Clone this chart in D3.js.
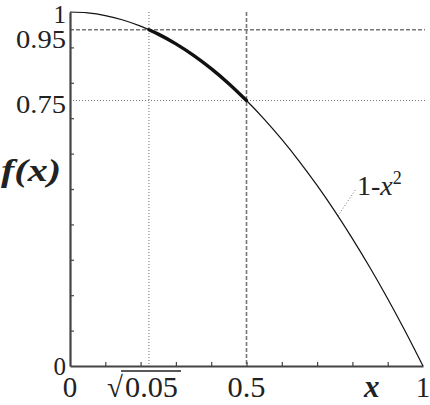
<!DOCTYPE html>
<html><head><meta charset="utf-8">
<script src="https://cdn.jsdelivr.net/npm/d3@7"></script>
<style>body{margin:0;background:#fff}svg{display:block}</style>
</head><body>
<svg id="c" width="430" height="405"></svg>
<script>
const curveX = [0,0.05,0.1,0.15,0.2,0.25,0.3,0.35,0.4,0.45,0.5,0.55,0.6,0.65,0.7,0.75,0.8,0.85,0.9,0.95,1];
const curveY = [1,0.9975,0.99,0.9775,0.96,0.9375,0.91,0.8775,0.84,0.7975,0.75,0.6975,0.64,0.5775,0.51,0.4375,0.36,0.2775,0.19,0.0975,0];
const boldX = [0.2236,0.25,0.3,0.35,0.4,0.45,0.5];
const boldY = [0.95,0.9375,0.91,0.8775,0.84,0.7975,0.75];
const tickVals = [0.1,0.2,0.3,0.4,0.5,0.6,0.7,0.8,0.9];
const yLabels = [{v:1,t:"1"},{v:0.95,t:"0.95"},{v:0.75,t:"0.75"},{v:0,t:"0"}];
const xLabels = [{v:0,t:"0"},{v:0.5,t:"0.5"},{v:1,t:"1"}];
const sqrtLabel = {v:0.2236, t:"0.05"};
const dashedH = 0.95, dottedH = 0.75, dashedV = 0.5, dottedV = 0.2236;

const svg = d3.select("#c");
const x = d3.scaleLinear().domain([0,1]).range([70,423]);
const y = d3.scaleLinear().domain([0,1]).range([366,12]);
const grey = "#777";

// reference lines
const gl = svg.append("g");
gl.append("line").attr("x1",x(0)).attr("x2",x(1)+2).attr("y1",y(dashedH)).attr("y2",y(dashedH))
  .attr("stroke",grey).attr("stroke-width",1.6).attr("stroke-dasharray","4,2");
gl.append("line").attr("x1",x(0)).attr("x2",x(1)+2).attr("y1",y(dottedH)).attr("y2",y(dottedH))
  .attr("stroke",grey).attr("stroke-width",1.1).attr("stroke-dasharray","1,2");
gl.append("line").attr("x1",x(dashedV)).attr("x2",x(dashedV)).attr("y1",y(1)).attr("y2",y(0))
  .attr("stroke",grey).attr("stroke-width",1.6).attr("stroke-dasharray","4,2");
gl.append("line").attr("x1",x(dottedV)).attr("x2",x(dottedV)).attr("y1",y(1)).attr("y2",y(0))
  .attr("stroke",grey).attr("stroke-width",1.1).attr("stroke-dasharray","1,2");
gl.append("line").attr("x1",121).attr("x2",181).attr("y1",371).attr("y2",371).attr("stroke","#222").attr("stroke-width",1.3);
const lx = 0.759;
gl.append("line").attr("x1",x(lx)).attr("y1",y(1-lx*lx)).attr("x2",356).attr("y2",189)
  .attr("stroke",grey).attr("stroke-width",1).attr("stroke-dasharray","1,2");

// axes
const xa = gl.append("g").attr("transform",`translate(0,${y(0)})`)
  .call(d3.axisBottom(x).tickValues(tickVals).tickSizeInner(-4).tickSizeOuter(0).tickFormat(""));
const ya = gl.append("g").attr("transform",`translate(${x(0)},0)`)
  .call(d3.axisLeft(y).tickValues(tickVals).tickSizeInner(-4).tickSizeOuter(0).tickFormat(""));
[xa,ya].forEach(a=>{
  a.selectAll("text").remove();
  a.attr("font-family",null).attr("font-size",null);
  a.select(".domain").attr("stroke","#444").attr("stroke-width",2.2);
  a.selectAll(".tick line").attr("stroke","#444").attr("stroke-width",1.2);
});

// curve
const line = d3.line().x(d=>x(d[0])).y(d=>y(d[1])).curve(d3.curveMonotoneX);
gl.append("path").datum(curveX.map((v,i)=>[v,curveY[i]])).attr("d",line)
  .attr("fill","none").attr("stroke","#111").attr("stroke-width",1.2);
gl.append("path").datum(boldX.map((v,i)=>[v,boldY[i]])).attr("d",line)
  .attr("fill","none").attr("stroke","#111").attr("stroke-width",3.4).attr("stroke-linecap","round");

// labels
const gText = svg.append("g");
const txt = (px,py,size)=>gText.append("text").attr("x",px).attr("y",py)
  .attr("font-family","Liberation Serif").attr("font-size",size).attr("fill","#222");
const yBase = {"1":23,"0.95":48,"0.75":113,"0":375};
yLabels.forEach(d=>{
  const t = txt(66, yBase[d.t], 25).attr("text-anchor","end").text(d.t);
  if (d.t.length>1) t.attr("textLength",50).attr("lengthAdjust","spacingAndGlyphs");
});
xLabels.forEach(d=>{
  const t = txt(x(d.v), 397, 29).attr("text-anchor","middle").text(d.t);
  if (d.t.length>1) t.attr("textLength",38).attr("lengthAdjust","spacingAndGlyphs");
});
txt(107, 397, 29).text("√");
txt(125, 397, 29).attr("textLength",53).attr("lengthAdjust","spacingAndGlyphs").text(sqrtLabel.t);
txt(1, 181, 31).attr("font-weight","bold").attr("font-style","italic").text("f(x)")
  .attr("textLength",60).attr("lengthAdjust","spacingAndGlyphs");
txt(364, 397, 31).attr("font-weight","bold").attr("font-style","italic").text("x");
const cl = txt(357, 195, 28);
cl.append("tspan").text("1-");
cl.append("tspan").attr("font-style","italic").text("x");
cl.append("tspan").attr("font-size",18).attr("dy",-11).text("2");
</script>
</body></html>
